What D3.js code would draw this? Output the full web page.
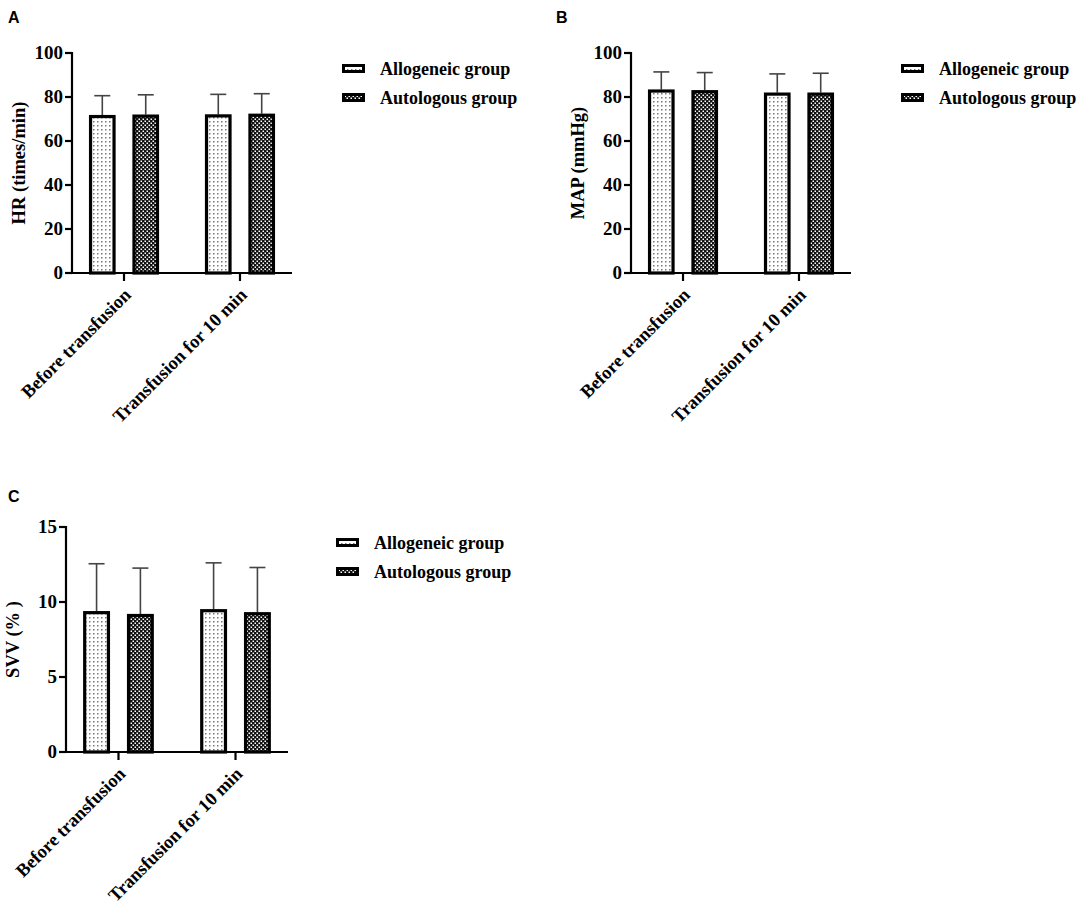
<!DOCTYPE html>
<html>
<head>
<meta charset="utf-8">
<title>HR, MAP and SVV</title>
<script src="https://d3js.org/d3.v7.min.js"></script>
<style>
  body { margin: 0; background: #fff; }
  .tick-label, .axis-title, .cat-label, .legend-label {
    font-family: "Liberation Serif", "Times New Roman", serif;
    font-weight: bold;
    fill: #000;
  }
  .panel-letter { font-family: "Liberation Sans", Arial, sans-serif; font-weight: bold; font-size: 16px; }
</style>
</head>
<body>
<script>
// categories and groups
var categories = ["Before transfusion", "Transfusion for 10 min"];
var groups = ["Allogeneic group", "Autologous group"];

// HR (times/min)
var hrAllo = [71.8, 72.1];
var hrAlloSD = [8.8, 9.1];
var hrAuto = [72.0, 72.4];
var hrAutoSD = [9.0, 9.1];

// MAP (mmHg)
var mapAllo = [83.4, 82.0];
var mapAlloSD = [8.0, 8.5];
var mapAuto = [83.1, 82.0];
var mapAutoSD = [8.0, 8.8];

// SVV (%)
var svvAllo = [9.39, 9.52];
var svvAlloSD = [3.16, 3.09];
var svvAuto = [9.20, 9.32];
var svvAutoSD = [3.06, 2.98];

var hrTicks = [0, 20, 40, 60, 80, 100];
var mapTicks = [0, 20, 40, 60, 80, 100];
var svvTicks = [0, 5, 10, 15];

var svg = d3.select("body").append("svg")
  .attr("width", 1084)
  .attr("height", 915);

// fill patterns
var defs = svg.append("defs");
var dots = defs.append("pattern")
  .attr("id", "dots")
  .attr("patternUnits", "userSpaceOnUse")
  .attr("width", 4).attr("height", 4);
dots.append("rect").attr("width", 4).attr("height", 4).attr("fill", "#fff");
dots.append("rect").attr("x", 1).attr("y", 1).attr("width", 1.5).attr("height", 1.5).attr("fill", "#777");

var checks = defs.append("pattern")
  .attr("id", "checks")
  .attr("patternUnits", "userSpaceOnUse")
  .attr("width", 4).attr("height", 4);
checks.append("rect").attr("width", 4).attr("height", 4).attr("fill", "#111");
checks.append("rect").attr("x", 0.5).attr("y", 0.5).attr("width", 1.5).attr("height", 1.5).attr("fill", "#fff");
checks.append("rect").attr("x", 2.5).attr("y", 2.5).attr("width", 1.5).attr("height", 1.5).attr("fill", "#fff");

var fills = ["url(#dots)", "url(#checks)"];

function drawPanel(p) {
  var g = svg.append("g");

  var y = d3.scaleLinear().domain(p.domain).range([p.bottom, p.top]);
  var x0 = d3.scaleBand().domain(categories)
    .range([p.left, p.left + p.width])
    .paddingInner(0.397).paddingOuter(0.147);
  var x1 = d3.scaleBand().domain(groups)
    .range([0, x0.bandwidth()])
    .paddingInner(0.39).paddingOuter(0);

  var rows = [];
  categories.forEach(function (c, i) {
    groups.forEach(function (gr, j) {
      rows.push({ cat: c, group: gr, j: j, mean: p.means[j][i], sd: p.sds[j][i] });
    });
  });

  // error bars (upper only)
  var eb = g.selectAll(".eb").data(rows).enter().append("g");
  eb.append("line")
    .attr("x1", function (d) { return x0(d.cat) + x1(d.group) + x1.bandwidth() / 2; })
    .attr("x2", function (d) { return x0(d.cat) + x1(d.group) + x1.bandwidth() / 2; })
    .attr("y1", function (d) { return y(d.mean); })
    .attr("y2", function (d) { return y(d.mean + d.sd); })
    .attr("stroke", "#444").attr("stroke-width", 1.6);
  eb.append("line")
    .attr("x1", function (d) { return x0(d.cat) + x1(d.group) + x1.bandwidth() / 2 - 8; })
    .attr("x2", function (d) { return x0(d.cat) + x1(d.group) + x1.bandwidth() / 2 + 8; })
    .attr("y1", function (d) { return y(d.mean + d.sd); })
    .attr("y2", function (d) { return y(d.mean + d.sd); })
    .attr("stroke", "#444").attr("stroke-width", 1.6);

  // bars
  g.selectAll(".bar").data(rows).enter().append("rect")
    .attr("x", function (d) { return x0(d.cat) + x1(d.group) + 1.5; })
    .attr("y", function (d) { return y(d.mean) + 1.5; })
    .attr("width", x1.bandwidth() - 3)
    .attr("height", function (d) { return y(0) - y(d.mean) - 1.5; })
    .attr("fill", function (d) { return fills[d.j]; })
    .attr("stroke", "#000").attr("stroke-width", 3.2);

  // y axis
  g.append("line")
    .attr("x1", p.left).attr("x2", p.left)
    .attr("y1", p.top - 1).attr("y2", p.bottom + 1)
    .attr("stroke", "#000").attr("stroke-width", 2.2);
  g.selectAll(".yt").data(p.ticks).enter().append("line")
    .attr("x1", p.left - 7).attr("x2", p.left)
    .attr("y1", function (d) { return y(d); })
    .attr("y2", function (d) { return y(d); })
    .attr("stroke", "#000").attr("stroke-width", 2.2);
  g.selectAll(".ytl").data(p.ticks).enter().append("text")
    .attr("class", "tick-label")
    .attr("x", p.left - 9)
    .attr("y", function (d) { return y(d); })
    .attr("dy", "0.34em")
    .attr("text-anchor", "end")
    .style("font-size", "19px")
    .text(function (d) { return d; });

  // x axis
  g.append("line")
    .attr("x1", p.left).attr("x2", p.left + p.width)
    .attr("y1", p.bottom).attr("y2", p.bottom)
    .attr("stroke", "#000").attr("stroke-width", 2.2);
  g.selectAll(".xt").data(categories).enter().append("line")
    .attr("x1", function (d) { return x0(d) + x0.bandwidth() / 2; })
    .attr("x2", function (d) { return x0(d) + x0.bandwidth() / 2; })
    .attr("y1", p.bottom).attr("y2", p.bottom + 8)
    .attr("stroke", "#000").attr("stroke-width", 2.2);
  g.selectAll(".xtl").data(categories).enter().append("text")
    .attr("class", "cat-label")
    .attr("text-anchor", "end")
    .attr("transform", function (d) {
      return "translate(" + (x0(d) + x0.bandwidth() / 2 + 8) + "," + (p.bottom + 23) + ") rotate(-45)";
    })
    .style("font-size", "18.5px")
    .text(function (d) { return d; });

  // y axis title
  g.append("text")
    .attr("class", "axis-title")
    .attr("text-anchor", "middle")
    .attr("transform", "translate(" + (p.left - 47) + "," + ((p.top + p.bottom) / 2) + ") rotate(-90)")
    .style("font-size", "18.5px")
    .text(p.title);

  // panel letter
  g.append("text")
    .attr("class", "panel-letter")
    .attr("x", p.letterX).attr("y", p.letterY)
    .text(p.letter);

  // legend
  var leg = g.selectAll(".leg").data(groups).enter().append("g")
    .attr("transform", function (d, i) { return "translate(" + (p.left + 270) + "," + (p.top + 11 + i * 29) + ")"; });
  leg.append("rect")
    .attr("x", 1.5).attr("y", 1.5)
    .attr("width", 20).attr("height", 6)
    .attr("fill", function (d, i) { return fills[i]; })
    .attr("stroke", "#000").attr("stroke-width", 3);
  leg.append("text")
    .attr("class", "legend-label")
    .attr("x", 38).attr("y", 4.5)
    .attr("dy", "0.35em")
    .style("font-size", "18px")
    .text(function (d) { return d; });
}

drawPanel({ letter: "A", letterX: 8, letterY: 23, left: 72, width: 220, top: 53, bottom: 273,
  domain: [0, 100], ticks: hrTicks, title: "HR (times/min)",
  means: [hrAllo, hrAuto], sds: [hrAlloSD, hrAutoSD] });

drawPanel({ letter: "B", letterX: 556, letterY: 23, left: 631, width: 220, top: 53, bottom: 273,
  domain: [0, 100], ticks: mapTicks, title: "MAP (mmHg)",
  means: [mapAllo, mapAuto], sds: [mapAlloSD, mapAutoSD] });

drawPanel({ letter: "C", letterX: 8, letterY: 502, left: 66, width: 222, top: 527, bottom: 752,
  domain: [0, 15], ticks: svvTicks, title: "SVV (% )",
  means: [svvAllo, svvAuto], sds: [svvAlloSD, svvAutoSD] });
</script>
</body>
</html>
